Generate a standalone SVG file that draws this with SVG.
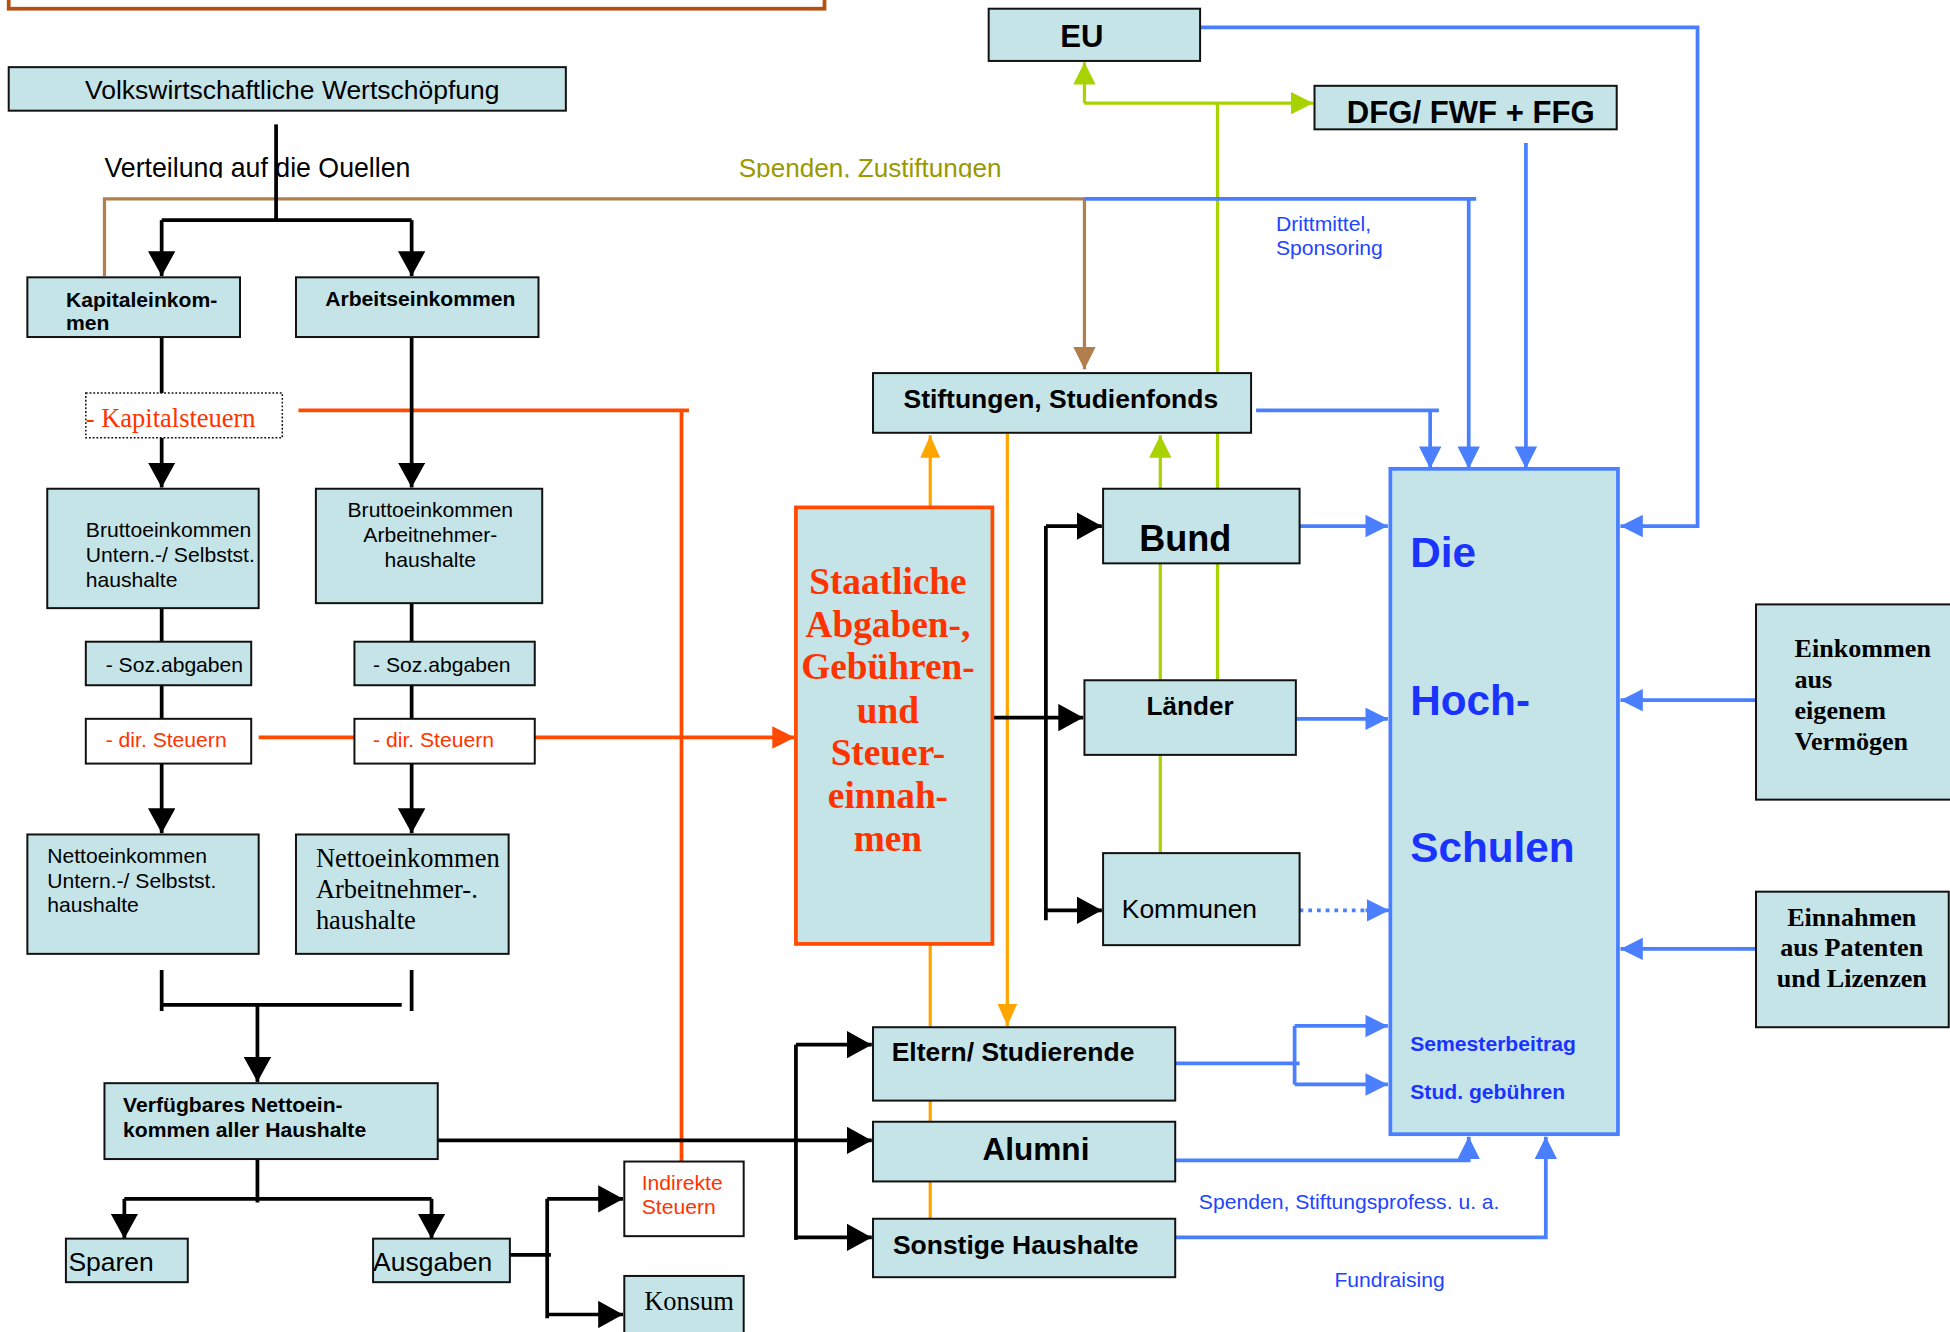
<svg xmlns="http://www.w3.org/2000/svg" width="1950" height="1332" viewBox="0 0 1950 1332">
<style>
.box{fill:#C5E4E8;stroke:#111;stroke-width:1.6}
.wbox{fill:#fff;stroke:#111;stroke-width:1.6}
.s{font-family:"Liberation Sans",Arial,sans-serif}
.r{font-family:"Liberation Serif","Times New Roman",serif}
.b{font-weight:bold}
.k{stroke:#000;stroke-width:3;fill:none}
.red{stroke:#FF4A00;stroke-width:3;fill:none}
.br{stroke:#B07F4B;stroke-width:2.6;fill:none}
.or{stroke:#FFA500;stroke-width:2.6;fill:none}
.gr{stroke:#A8D300;stroke-width:2.6;fill:none}
.bl{stroke:#4A80FF;stroke-width:3;fill:none}
</style>
<defs>
<marker id="ak" markerUnits="userSpaceOnUse" markerWidth="20" markerHeight="22" viewBox="0 0 20 22" refX="20" refY="11" orient="auto"><path d="M0,0L20,11L0,22z" fill="#000"/></marker>
<marker id="ab" markerUnits="userSpaceOnUse" markerWidth="18" markerHeight="18" viewBox="0 0 18 18" refX="18" refY="9" orient="auto"><path d="M0,0L18,9L0,18z" fill="#4A80FF"/></marker>
<marker id="ag" markerUnits="userSpaceOnUse" markerWidth="18" markerHeight="18" viewBox="0 0 18 18" refX="18" refY="9" orient="auto"><path d="M0,0L18,9L0,18z" fill="#A8D300"/></marker>
<marker id="ao" markerUnits="userSpaceOnUse" markerWidth="18" markerHeight="16" viewBox="0 0 18 16" refX="18" refY="8" orient="auto"><path d="M0,0L18,8L0,16z" fill="#FFA500"/></marker>
<marker id="abr" markerUnits="userSpaceOnUse" markerWidth="18" markerHeight="18" viewBox="0 0 18 18" refX="18" refY="9" orient="auto"><path d="M0,0L18,9L0,18z" fill="#B07F4B"/></marker>
<marker id="ar" markerUnits="userSpaceOnUse" markerWidth="18" markerHeight="18" viewBox="0 0 18 18" refX="18" refY="9" orient="auto"><path d="M0,0L18,9L0,18z" fill="#FF4A00"/></marker>
<clipPath id="cl"><rect x="0" y="100" width="1568" height="43"/></clipPath>
</defs>
<rect width="1950" height="1332" fill="#fff"/>
<g transform="scale(1.24362)">
<rect x="7" y="-20" width="656" height="27" fill="none" stroke="#B5500F" stroke-width="3"/>
<g id="connectors">
<path class="br" d="M84,222V160H872V297" marker-end="url(#abr)"/>
<path class="red" d="M240,330H554M548,330V934M208,593H285"/>
<path class="red" d="M430,593H639" marker-end="url(#ar)"/>
<path class="k" d="M130,177H331M130,271V316M130,489V516M130,551V578M331,485V516M331,551V578"/>
<path class="k" d="M130,177V222" marker-end="url(#ak)"/>
<path class="k" d="M331,177V222" marker-end="url(#ak)"/>
<path class="k" d="M130,352V392" marker-end="url(#ak)"/>
<path class="k" d="M331,271V392" marker-end="url(#ak)"/>
<path class="k" d="M130,614V670" marker-end="url(#ak)"/>
<path class="k" d="M331,614V670" marker-end="url(#ak)"/>
<path class="k" d="M130,780V813M331,780V813M130,808H323"/>
<path class="k" d="M207,808V870" marker-end="url(#ak)"/>
<path class="k" d="M207,932V967M100,964H347"/>
<path class="k" d="M100,964V996" marker-end="url(#ak)"/>
<path class="k" d="M347,964V996" marker-end="url(#ak)"/>
<path class="k" d="M410,1009H443M440,964V1060"/>
<path class="k" d="M440,964H501" marker-end="url(#ak)"/>
<path class="k" d="M440,1057H501" marker-end="url(#ak)"/>
<path class="k" d="M347,917H701" marker-end="url(#ak)"/>
<path class="k" d="M640,840V997"/>
<path class="k" d="M640,840H701" marker-end="url(#ak)"/>
<path class="k" d="M640,995H701" marker-end="url(#ak)"/>
<path class="or" d="M748,408V350" marker-end="url(#ao)"/>
<path class="or" d="M748,759V980"/>
<path class="or" d="M810,349V825" marker-end="url(#ao)"/>
<path class="k" d="M795,577H871" marker-end="url(#ak)"/>
<path class="k" d="M841,423V740"/>
<path class="k" d="M841,423H886" marker-end="url(#ak)"/>
<path class="k" d="M841,732H886" marker-end="url(#ak)"/>
<path class="gr" d="M979,393V83M979,453V547M933,453V547M933,607V686"/>
<path class="gr" d="M933,393V350" marker-end="url(#ag)"/>
<path class="gr" d="M872,83V50" marker-end="url(#ag)"/>
<path class="gr" d="M872,83H1056" marker-end="url(#ag)"/>
<path class="bl" d="M965,22H1365V423H1303" marker-end="url(#ab)"/>
<path class="bl" d="M1227,115V377" marker-end="url(#ab)"/>
<path class="bl" d="M872,160H1187"/>
<path class="bl" d="M1181,160V377" marker-end="url(#ab)"/>
<path class="bl" d="M1010,330H1157"/>
<path class="bl" d="M1150,330V377" marker-end="url(#ab)"/>
<path class="bl" d="M1045,423H1116" marker-end="url(#ab)"/>
<path class="bl" d="M1042,578H1116" marker-end="url(#ab)"/>
<path class="bl" d="M1045,732H1100" stroke-dasharray="3,4"/>
<path class="bl" d="M1098,732H1117" marker-end="url(#ab)"/>
<path class="bl" d="M945,855H1045M1041,825V872"/>
<path class="bl" d="M1041,825H1116" marker-end="url(#ab)"/>
<path class="bl" d="M1041,872H1116" marker-end="url(#ab)"/>
<path class="bl" d="M945,933H1181V914" marker-end="url(#ab)"/>
<path class="bl" d="M945,995H1243V914" marker-end="url(#ab)"/>
<path class="bl" d="M1412,563H1303" marker-end="url(#ab)"/>
<path class="bl" d="M1412,763H1303" marker-end="url(#ab)"/>
</g>
<text class="s" x="84" y="142" font-size="21.5" clip-path="url(#cl)">Verteilung auf die Quellen</text>
<path class="k" d="M222,100V177"/>
<text class="s" x="594" y="142" font-size="21" fill="#999900" clip-path="url(#cl)">Spenden, Zustiftungen</text>
<text class="s" x="1026" y="186" font-size="17" fill="#2244FF">Drittmittel,</text>
<text class="s" x="1026" y="205" font-size="17" fill="#2244FF">Sponsoring</text>
<text class="s" x="964" y="972" font-size="17" fill="#2244FF">Spenden, Stiftungsprofess. u. a.</text>
<text class="s" x="1073" y="1035" font-size="17" fill="#2244FF">Fundraising</text>

<g id="volkswirt"><rect class="box" x="7" y="54" width="448" height="35"/><text class="s" x="235" y="80" font-size="21.3" text-anchor="middle">Volkswirtschaftliche Wertschöpfung</text></g>
<g id="kapitaleinkommen"><rect class="box" x="22" y="223" width="171" height="48"/><text class="s b" x="53" y="247" font-size="17">Kapitaleinkom-</text><text class="s b" x="53" y="265" font-size="17">men</text></g>
<g id="arbeitseinkommen"><rect class="box" x="238" y="223" width="195" height="48"/><text class="s b" x="338" y="246" font-size="17" text-anchor="middle">Arbeitseinkommen</text></g>
<g id="kapitalsteuern"><rect x="69" y="316" width="158" height="36" fill="#fff" stroke="#111" stroke-width="1.2" stroke-dasharray="1.5,1.5"/><text class="r" x="69" y="343" font-size="21.3" fill="#FF3300">- Kapitalsteuern</text></g>
<g id="brutto-u"><rect class="box" x="38" y="393" width="170" height="96"/><text class="s" x="69" y="432" font-size="17">Bruttoeinkommen</text><text class="s" x="69" y="452" font-size="17">Untern.-/ Selbstst.</text><text class="s" x="69" y="472" font-size="17">haushalte</text></g>
<g id="brutto-a"><rect class="box" x="254" y="393" width="182" height="92"/><text class="s" x="346" y="416" font-size="17" text-anchor="middle">Bruttoeinkommen</text><text class="s" x="346" y="436" font-size="17" text-anchor="middle">Arbeitnehmer-</text><text class="s" x="346" y="456" font-size="17" text-anchor="middle">haushalte</text></g>
<g id="soz-u"><rect class="box" x="69" y="516" width="133" height="35"/><text class="s" x="85" y="540" font-size="17">- Soz.abgaben</text></g>
<g id="soz-a"><rect class="box" x="285" y="516" width="145" height="35"/><text class="s" x="300" y="540" font-size="17">- Soz.abgaben</text></g>
<g id="dir-u"><rect class="wbox" x="69" y="578" width="133" height="36"/><text class="s" x="85" y="601" font-size="17" fill="#FF3300">- dir. Steuern</text></g>
<g id="dir-a"><rect class="wbox" x="285" y="578" width="145" height="36"/><text class="s" x="300" y="601" font-size="17" fill="#FF3300">- dir. Steuern</text></g>
<g id="netto-u"><rect class="box" x="22" y="671" width="186" height="96"/><text class="s" x="38" y="694" font-size="17">Nettoeinkommen</text><text class="s" x="38" y="714" font-size="17">Untern.-/ Selbstst.</text><text class="s" x="38" y="733" font-size="17">haushalte</text></g>
<g id="netto-a"><rect class="box" x="238" y="671" width="171" height="96"/><text class="r" x="254" y="697" font-size="21.3">Nettoeinkommen</text><text class="r" x="254" y="722" font-size="21.3">Arbeitnehmer-.</text><text class="r" x="254" y="747" font-size="21.3">haushalte</text></g>
<g id="verfuegbar"><rect class="box" x="84" y="871" width="268" height="61"/><text class="s b" x="99" y="894" font-size="17">Verfügbares Nettoein-</text><text class="s b" x="99" y="914" font-size="17">kommen aller Haushalte</text></g>
<g id="sparen"><rect class="box" x="53" y="996" width="98" height="35"/><text class="s" x="55" y="1022" font-size="21.3">Sparen</text></g>
<g id="ausgaben"><rect class="box" x="300" y="996" width="110" height="35"/><text class="s" x="300" y="1022" font-size="21.3">Ausgaben</text></g>
<g id="indirekte"><rect class="wbox" x="502" y="934" width="96" height="60"/><text class="s" x="516" y="957" font-size="17" fill="#FF3300">Indirekte</text><text class="s" x="516" y="976" font-size="17" fill="#FF3300">Steuern</text></g>
<g id="konsum"><rect class="box" x="502" y="1026" width="96" height="50"/><text class="r" x="518" y="1053" font-size="21.3">Konsum</text></g>
<g id="staatliche"><rect x="640" y="408" width="158" height="351" fill="#C5E4E8" stroke="#FF4A00" stroke-width="3"/>
<g class="r b" font-size="30" fill="#FF3300" text-anchor="middle"><text x="714" y="478">Staatliche</text><text x="714" y="512">Abgaben-,</text><text x="714" y="546">Gebühren-</text><text x="714" y="581">und</text><text x="714" y="615">Steuer-</text><text x="714" y="650">einnah-</text><text x="714" y="684">men</text></g></g>
<g id="eu"><rect class="box" x="795" y="7" width="170" height="42"/><text class="s b" x="870" y="38" font-size="25" text-anchor="middle">EU</text></g>
<g id="dfg"><rect class="box" x="1057" y="69" width="243" height="35"/><text class="s b" x="1083" y="99" font-size="25">DFG/ FWF + FFG</text></g>
<g id="stiftungen"><rect class="box" x="702" y="300" width="304" height="48"/><text class="s b" x="853" y="328" font-size="21.3" text-anchor="middle">Stiftungen, Studienfonds</text></g>
<g id="bund"><rect class="box" x="887" y="393" width="158" height="60"/><text class="s b" x="916" y="443" font-size="29">Bund</text></g>
<g id="laender"><rect class="box" x="872" y="547" width="170" height="60"/><text class="s b" x="957" y="575" font-size="21" text-anchor="middle">Länder</text></g>
<g id="kommunen"><rect class="box" x="887" y="686" width="158" height="74"/><text class="s" x="902" y="738" font-size="21.3">Kommunen</text></g>
<g id="eltern"><rect class="box" x="702" y="826" width="243" height="59"/><text class="s b" x="717" y="853" font-size="21.3">Eltern/ Studierende</text></g>
<g id="alumni"><rect class="box" x="702" y="902" width="243" height="48"/><text class="s b" x="833" y="933" font-size="25.4" text-anchor="middle">Alumni</text></g>
<g id="sonstige"><rect class="box" x="702" y="980" width="243" height="47"/><text class="s b" x="718" y="1008" font-size="21.3">Sonstige Haushalte</text></g>
<g id="hochschulen"><rect x="1118" y="377" width="183" height="535" fill="#C5E4E8" stroke="#4A80FF" stroke-width="3"/>
<g class="s b" fill="#1A33FF"><text x="1134" y="456" font-size="34">Die</text><text x="1134" y="575" font-size="34">Hoch-</text><text x="1134" y="693" font-size="34">Schulen</text><text x="1134" y="845" font-size="17">Semesterbeitrag</text><text x="1134" y="884" font-size="17">Stud. gebühren</text></g></g>
<g id="einkommen"><rect class="box" x="1412" y="486" width="160" height="157"/><g class="r b" font-size="21"><text x="1443" y="528">Einkommen</text><text x="1443" y="553">aus</text><text x="1443" y="578">eigenem</text><text x="1443" y="603">Vermögen</text></g></g>
<g id="einnahmen"><rect class="box" x="1412" y="717" width="155" height="109"/><g class="r b" font-size="21" text-anchor="middle"><text x="1489" y="745">Einnahmen</text><text x="1489" y="769">aus Patenten</text><text x="1489" y="794">und Lizenzen</text></g></g>
</g>
</svg>
